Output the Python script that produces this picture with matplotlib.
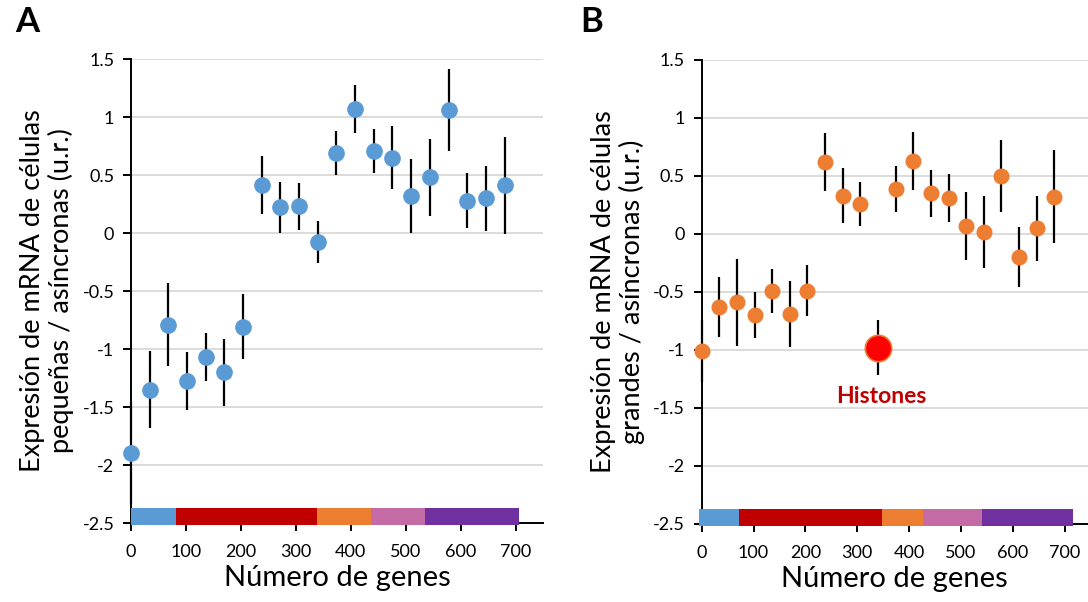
import matplotlib
matplotlib.use("Agg")
import matplotlib.pyplot as plt

plt.rcParams['font.family'] = ['Lato', 'DejaVu Sans']

# ---------------- data ----------------
genes_x = [0, 34, 68, 102, 136, 170, 204, 238, 272, 306, 340,
           374, 408, 442, 476, 510, 544, 578, 612, 646, 680]

small_y = [-1.90, -1.35, -0.79, -1.28, -1.07, -1.20, -0.81, 0.41, 0.22, 0.23, -0.08,
           0.69, 1.07, 0.71, 0.65, 0.32, 0.48, 1.06, 0.28, 0.30, 0.41]
small_err = [0.44, 0.33, 0.36, 0.25, 0.21, 0.29, 0.28, 0.25, 0.22, 0.20, 0.18,
             0.19, 0.21, 0.19, 0.27, 0.32, 0.33, 0.35, 0.24, 0.28, 0.42]

large_x = [0, 34, 68, 102, 136, 170, 204, 238, 272, 306,
           374, 408, 442, 476, 510, 544, 578, 612, 646, 680]
large_y = [-1.01, -0.63, -0.59, -0.70, -0.49, -0.69, -0.49, 0.62, 0.33, 0.26,
           0.39, 0.63, 0.35, 0.31, 0.07, 0.02, 0.50, -0.20, 0.05, 0.32]
large_err = [0.27, 0.26, 0.375, 0.20, 0.19, 0.285, 0.22, 0.25, 0.235, 0.19,
             0.20, 0.25, 0.205, 0.21, 0.295, 0.31, 0.31, 0.26, 0.28, 0.40]

histone_x = 340
histone_y = -0.98
histone_err = 0.235

band_colors = ['#5B9BD5', '#C00000', '#ED7D31', '#C46BA5', '#7030A0']
bands_A = [0, 82, 338, 437, 536, 706]
bands_B = [-6, 72, 347, 427, 541, 716]

y_ticks = [-2.5, -2, -1.5, -1, -0.5, 0, 0.5, 1, 1.5]
y_ticklabels = ['-2.5', '-2', '-1.5', '-1', '-0.5', '0', '0.5', '1', '1.5']
x_ticks = [0, 100, 200, 300, 400, 500, 600, 700]
x_ticklabels = ['0', '100', '200', '300', '400', '500', '600', '700']

W, H = 1088, 602
fig = plt.figure(figsize=(W / 100, H / 100), dpi=100)

def px_axes(left, right, top, bottom):
    return fig.add_axes([left / W, (H - bottom) / H, (right - left) / W, (bottom - top) / H])

axA = px_axes(131, 543, 59, 523)
axB = px_axes(701.7, 1088, 60, 524)

def style(ax, xmax, ylabel, bands):
    ax.set_xlim(0, xmax)
    ax.set_ylim(-2.5, 1.5)
    ax.set_yticks(y_ticks)
    ax.set_yticklabels(y_ticklabels)
    ax.set_xticks(x_ticks)
    ax.set_xticklabels(x_ticklabels)
    ax.grid(axis='y', color='#D9D9D9', linewidth=1.3, zorder=0)
    ax.set_axisbelow(True)
    for s in ['top', 'right']:
        ax.spines[s].set_visible(False)
    for s in ['left', 'bottom']:
        ax.spines[s].set_linewidth(1.4)
        ax.spines[s].set_color('black')
    ax.tick_params(axis='both', direction='out', length=6, width=1.4, labelsize=13, pad=6)
    ax.tick_params(axis='x', pad=9)
    ax.set_xlabel('Número de genes', fontsize=21, labelpad=4)
    ax.set_ylabel(ylabel, fontsize=19.5, labelpad=6, linespacing=1.12)
    for i in range(len(band_colors)):
        ax.bar(bands[i], 0.15, width=bands[i + 1] - bands[i], bottom=-2.52, align='edge',
               color=band_colors[i], edgecolor='none', zorder=3, clip_on=False)

style(axA, 750, 'Expresión de mRNA de células\npequeñas / asíncronas (u.r.)', bands_A)
style(axB, 745, 'Expresión de mRNA de células\ngrandes / asíncronas (u.r.)', bands_B)

axA.errorbar(genes_x, small_y, yerr=small_err, fmt='o', color='#5B9BD5', ms=11,
             ecolor='black', elinewidth=1.6, capsize=0, zorder=4, clip_on=False)
axB.errorbar(large_x, large_y, yerr=large_err, fmt='o', color='#ED7D31', ms=10.5,
             ecolor='black', elinewidth=1.6, capsize=0, zorder=4, clip_on=False)
axB.errorbar([histone_x], [histone_y], yerr=[histone_err], fmt='o', markerfacecolor='#FF0000',
             markeredgecolor='#ED7D31', markeredgewidth=1.2, ms=19,
             ecolor='black', elinewidth=1.6, capsize=0, zorder=5)
axB.text(347, -1.40, 'Histones', color='#C00000', fontsize=16.5, fontweight='bold',
         ha='center', va='center')

fig.text(27 / W, 1 - 22 / H, 'A', fontsize=25, fontweight='bold', ha='center', va='center')
fig.text(592 / W, 1 - 22 / H, 'B', fontsize=25, fontweight='bold', ha='center', va='center')

fig.savefig('out.png', dpi=100)
